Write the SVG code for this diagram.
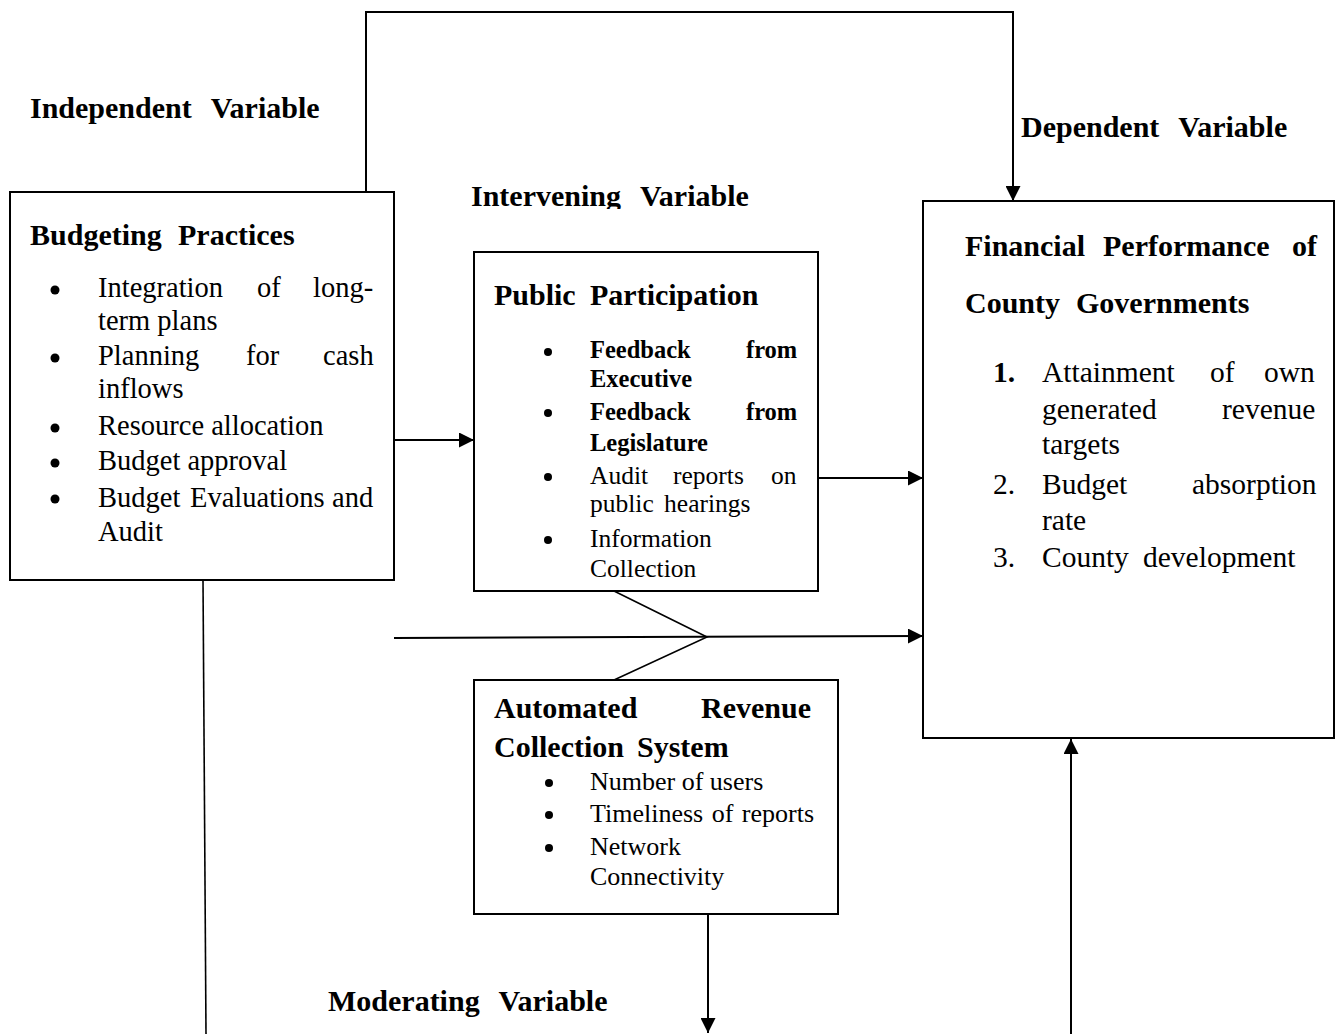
<svg xmlns="http://www.w3.org/2000/svg" width="1336" height="1034" viewBox="0 0 1336 1034">
<style>
text{font-family:"Liberation Serif","Times New Roman",serif;fill:#000}
.lbl{font-size:30px;font-weight:bold;word-spacing:12px}
.hd{font-size:30px;font-weight:bold}
.b1{font-size:28.5px}
.pb{font-size:24.5px;font-weight:bold}
.pr{font-size:25.5px}
.ar{font-size:26px}
.fr{font-size:29.5px}
.box{fill:#fff;stroke:#000;stroke-width:2}
.ln{fill:none;stroke:#000;stroke-width:2}
.thin{fill:none;stroke:#000;stroke-width:1.6}
.bul{fill:#000}
</style>
<defs>
<marker id="ah" markerWidth="15" markerHeight="15" refX="15" refY="7.5" orient="auto" markerUnits="userSpaceOnUse">
<path d="M0,0 L15,7.5 L0,15 z" fill="#000"/>
</marker>
<clipPath id="clipInt"><rect x="440" y="170" width="340" height="39"/></clipPath>
</defs>
<rect width="1336" height="1034" fill="#fff"/>

<g id="labels">
<text class="lbl" x="30" y="118">Independent Variable</text>
<text class="lbl" x="1021" y="137">Dependent Variable</text>
<text class="lbl" x="471" y="206" clip-path="url(#clipInt)">Intervening Variable</text>
<text class="lbl" x="328" y="1011">Moderating Variable</text>
</g>

<g id="connectors">
<polyline class="ln" points="366,192 366,12 1013,12 1013,201" marker-end="url(#ah)"/>
<line class="ln" x1="394" y1="440" x2="474" y2="440" marker-end="url(#ah)"/>
<line class="ln" x1="818" y1="478" x2="923" y2="478" marker-end="url(#ah)"/>
<line class="ln" x1="394" y1="638" x2="923" y2="636" marker-end="url(#ah)"/>
<polyline class="thin" points="614,591 707,637 614,680"/>
<line class="thin" x1="203" y1="580" x2="206" y2="1034"/>
<line class="ln" x1="708" y1="914" x2="708" y2="1033" marker-end="url(#ah)"/>
<line class="ln" x1="1071" y1="1034" x2="1071" y2="739" marker-end="url(#ah)"/>
</g>

<g id="budgeting-practices">
<rect class="box" x="10" y="192" width="384" height="388"/>
<text class="hd" x="30" y="245">Budgeting</text>
<text class="hd" x="178" y="245">Practices</text>
<circle class="bul" cx="55" cy="290" r="4.5"/>
<text class="b1" x="98" y="297">Integration</text>
<text class="b1" x="257" y="297">of</text>
<text class="b1" x="313" y="297">long-</text>
<text class="b1" x="98" y="330">term plans</text>
<circle class="bul" cx="55" cy="358" r="4.5"/>
<text class="b1" x="98" y="365">Planning</text>
<text class="b1" x="246" y="365">for</text>
<text class="b1" x="323" y="365">cash</text>
<text class="b1" x="98" y="398">inflows</text>
<circle class="bul" cx="55" cy="428" r="4.5"/>
<text class="b1" x="98" y="435">Resource allocation</text>
<circle class="bul" cx="55" cy="463" r="4.5"/>
<text class="b1" x="98" y="470">Budget approval</text>
<circle class="bul" cx="55" cy="499" r="4.5"/>
<text class="b1" x="98" y="507">Budget</text>
<text class="b1" x="190" y="507">Evaluations</text>
<text class="b1" x="332" y="507">and</text>
<text class="b1" x="98" y="541">Audit</text>
</g>

<g id="public-participation">
<rect class="box" x="474" y="252" width="344" height="339"/>
<text class="hd" x="494" y="305">Public</text>
<text class="hd" x="590" y="305">Participation</text>
<circle class="bul" cx="548" cy="352" r="4"/>
<text class="pb" x="590" y="358">Feedback</text>
<text class="pb" x="746" y="358">from</text>
<text class="pb" x="590" y="387">Executive</text>
<circle class="bul" cx="548" cy="413" r="4"/>
<text class="pb" x="590" y="420">Feedback</text>
<text class="pb" x="746" y="420">from</text>
<text class="pb" x="590" y="451">Legislature</text>
<circle class="bul" cx="548" cy="477" r="4"/>
<text class="pr" x="590" y="484">Audit</text>
<text class="pr" x="673" y="484">reports</text>
<text class="pr" x="771" y="484">on</text>
<text class="pr" x="590" y="512" word-spacing="4">public hearings</text>
<circle class="bul" cx="548" cy="540" r="4"/>
<text class="pr" x="590" y="547">Information</text>
<text class="pr" x="590" y="577">Collection</text>
</g>

<g id="automated-revenue-collection-system">
<rect class="box" x="474" y="680" width="364" height="234"/>
<text class="hd" x="494" y="718">Automated</text>
<text class="hd" x="701" y="718">Revenue</text>
<text class="hd" x="494" y="757">Collection</text>
<text class="hd" x="637" y="757">System</text>
<circle class="bul" cx="549" cy="783" r="4"/>
<text class="ar" x="590" y="790">Number of users</text>
<circle class="bul" cx="549" cy="815" r="4"/>
<text class="ar" x="590" y="822" word-spacing="2">Timeliness of reports</text>
<circle class="bul" cx="549" cy="848" r="4"/>
<text class="ar" x="590" y="855">Network</text>
<text class="ar" x="590" y="885">Connectivity</text>
</g>

<g id="financial-performance">
<rect class="box" x="923" y="201" width="411" height="537"/>
<text class="hd" x="965" y="256">Financial</text>
<text class="hd" x="1103" y="256">Performance</text>
<text class="hd" x="1292" y="256">of</text>
<text class="hd" x="965" y="313">County</text>
<text class="hd" x="1076" y="313">Governments</text>
<text class="fr" x="993" y="382" font-weight="bold">1.</text>
<text class="fr" x="1042" y="382">Attainment</text>
<text class="fr" x="1210" y="382">of</text>
<text class="fr" x="1264" y="382">own</text>
<text class="fr" x="1042" y="419">generated</text>
<text class="fr" x="1222" y="419">revenue</text>
<text class="fr" x="1042" y="454">targets</text>
<text class="fr" x="993" y="494">2.</text>
<text class="fr" x="1042" y="494">Budget</text>
<text class="fr" x="1192" y="494">absorption</text>
<text class="fr" x="1042" y="530">rate</text>
<text class="fr" x="993" y="567">3.</text>
<text class="fr" x="1042" y="567">County</text>
<text class="fr" x="1143" y="567">development</text>
</g>
</svg>
